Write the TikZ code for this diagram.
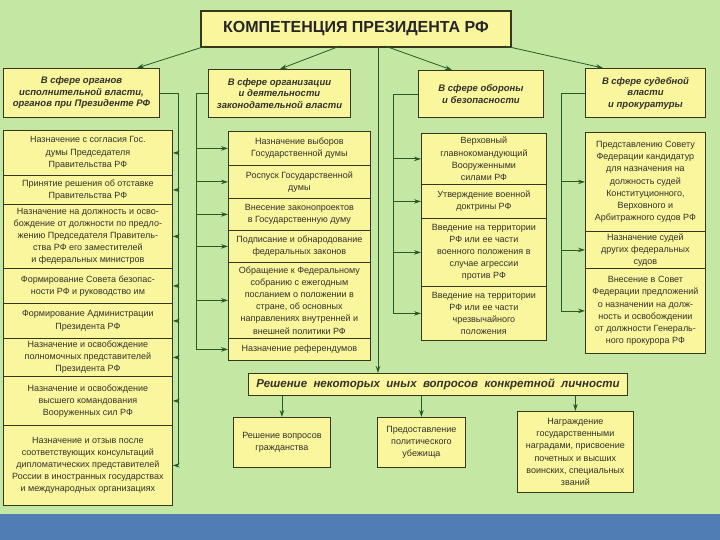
\documentclass[tikz,border=0pt]{standalone}
\usepackage{fontspec}
\setmainfont{Liberation Sans}
\usetikzlibrary{arrows.meta,calc}
\definecolor{bg}{RGB}{196,232,164}
\definecolor{boxfill}{RGB}{250,246,158}
\definecolor{boxdraw}{RGB}{55,55,30}
\definecolor{ln}{RGB}{40,90,40}
\definecolor{txt}{RGB}{50,50,40}
\definecolor{barblue}{RGB}{80,125,180}
\tikzset{
  box/.style={draw=boxdraw, line width=0.8pt, fill=boxfill, text=txt, align=center,
    inner sep=1pt, font=\fontsize{9}{12.2}\selectfont, anchor=north west},
  hdr/.style={line width=1pt, font=\fontsize{9.5}{11.5}\selectfont\bfseries\itshape},
  conn/.style={draw=ln, line width=0.8pt},
  arr/.style={conn, -{Stealth[length=7pt,width=4.5pt]}},
}
\newcommand\bx[7][]{\node[box,#1,minimum width={#5pt-#3pt},minimum height={#6pt-#4pt}] (#2) at (#3,#4) {#7};}
\begin{document}
\begin{tikzpicture}[x=1pt,y=-1pt]
\useasboundingbox (0,0) rectangle (720,540);
\fill[bg] (0,0) rectangle (720,540);
\fill[barblue] (0,514) rectangle (720,540);
% title
\bx[line width=2pt, text=black!85, font=\fontsize{16}{18}\selectfont\bfseries]{title}{200}{10}{510}{46}{КОМПЕТЕНЦИЯ ПРЕЗИДЕНТА РФ}
% headers
\bx[hdr]{h1}{3}{68}{159}{117}{В сфере органов\\исполнительной власти,\\органов при Президенте РФ}
\bx[hdr]{h2}{208}{69}{350}{117}{В сфере организации\\и деятельности\\законодательной власти}
\bx[hdr]{h3}{418}{70}{543}{117}{В сфере обороны\\и безопасности}
\bx[hdr]{h4}{585}{68}{705}{117}{В сфере судебной\\власти\\и прокуратуры}
% column 1
\bx{b1}{3}{130}{172}{175}{Назначение с согласия Гос.\\думы Председателя\\Правительства РФ}
\bx{b2}{3}{175}{172}{204}{Принятие решения об отставке\\Правительства РФ}
\bx{b3}{3}{204}{172}{268}{Назначение на должность и осво-\\бождение от должности по предло-\\жению Председателя Правитель-\\ства РФ его заместителей\\и федеральных министров}
\bx{b4}{3}{268}{172}{303}{Формирование Совета безопас-\\ности РФ и руководство им}
\bx{b5}{3}{303}{172}{338}{Формирование Администрации\\Президента РФ}
\bx{b6}{3}{338}{172}{376}{Назначение и освобождение\\полномочных представителей\\Президента РФ}
\bx{b7}{3}{376}{172}{425}{Назначение и освобождение\\высшего командования\\Вооруженных сил РФ}
\bx{b8}{3}{425}{172}{505}{Назначение и отзыв после\\соответствующих консультаций\\дипломатических представителей\\России в иностранных государствах\\и международных организациях}
% column 2
\bx{c1}{228}{131}{370}{165}{Назначение выборов\\Государственной думы}
\bx{c2}{228}{165}{370}{198}{Роспуск Государственной\\думы}
\bx{c3}{228}{198}{370}{230}{Внесение законопроектов\\в Государственную думу}
\bx{c4}{228}{230}{370}{262}{Подписание и обнародование\\федеральных законов}
\bx{c5}{228}{262}{370}{338}{Обращение к Федеральному\\собранию с ежегодным\\посланием о положении в\\стране, об основных\\направлениях внутренней и\\внешней политики РФ}
\bx{c6}{228}{338}{370}{360}{Назначение референдумов}
% column 3
\bx{d1}{421}{133}{546}{184}{Верховный\\главнокомандующий\\Вооруженными\\силами РФ}
\bx{d2}{421}{184}{546}{218}{Утверждение военной\\доктрины РФ}
\bx{d3}{421}{218}{546}{286}{Введение на территории\\РФ или ее части\\военного положения в\\случае агрессии\\против РФ}
\bx{d4}{421}{286}{546}{340}{Введение на территории\\РФ или ее части\\чрезвычайного\\положения}
% column 4
\bx{e1}{585}{132}{705}{231}{Представлению Совету\\Федерации кандидатур\\для назначения на\\должность судей\\Конституционного,\\Верховного и\\Арбитражного судов РФ}
\bx{e2}{585}{231}{705}{268}{Назначение судей\\других федеральных\\судов}
\bx{e3}{585}{268}{705}{353}{Внесение в Совет\\Федерации предложений\\о назначении на долж-\\ность и освобождении\\от должности Генераль-\\ного прокурора РФ}
% bottom
\bx[hdr, font=\fontsize{11.5}{13}\selectfont\bfseries\itshape]{f0}{248}{373}{627}{395}{Решение\ \ некоторых\ \ иных\ \ вопросов\ \ конкретной\ \ личности}
\bx{f1}{233}{417}{330}{467}{Решение вопросов\\гражданства}
\bx{f2}{377}{417}{465}{467}{Предоставление\\политического\\убежища}
\bx{f3}{517}{411}{633}{492}{Награждение\\государственными\\наградами, присвоение\\почетных и высших\\воинских, специальных\\званий}
% title connectors
\coordinate (t1) at (206,46); \coordinate (h1in) at (137,68);
\coordinate (t2) at (340,46); \coordinate (h2in) at (280,69);
\coordinate (t3) at (385,46); \coordinate (h3in) at (452,70);
\coordinate (t4) at (505,46); \coordinate (h4in) at (603,68);
\coordinate (tv) at (378,46);
\draw[arr] (t1) -- (h1in);
\draw[arr] (t2) -- (h2in);
\draw[arr] (t3) -- (h3in);
\draw[arr] (t4) -- (h4in);
\draw[arr] (tv) -- (tv |- f0.north);
% buses
\coordinate (bus1) at (178,465);
\coordinate (bus2) at (196,349);
\coordinate (bus3) at (393,313);
\coordinate (bus4) at (561,311);
\draw[conn] (h1.east) -| (bus1);
\draw[conn] (h2.west) -| (bus2);
\draw[conn] (h3.west) -| (bus3);
\draw[conn] (h4.west) -| (bus4);
\foreach \n in {b1,b2,b3,b4,b5,b6,b7,b8} \draw[arr] (\n.east -| bus1) -- (\n.east);
\foreach \n in {c1,c2,c3,c4,c5,c6} \draw[arr] (\n.west -| bus2) -- (\n.west);
\foreach \n in {d1,d2,d3,d4} \draw[arr] (\n.west -| bus3) -- (\n.west);
\foreach \n in {e1,e2,e3} \draw[arr] (\n.west -| bus4) -- (\n.west);
\foreach \n in {f1,f2,f3} \draw[arr] (f0.south -| \n.north) -- (\n.north);
\end{tikzpicture}
\end{document}
